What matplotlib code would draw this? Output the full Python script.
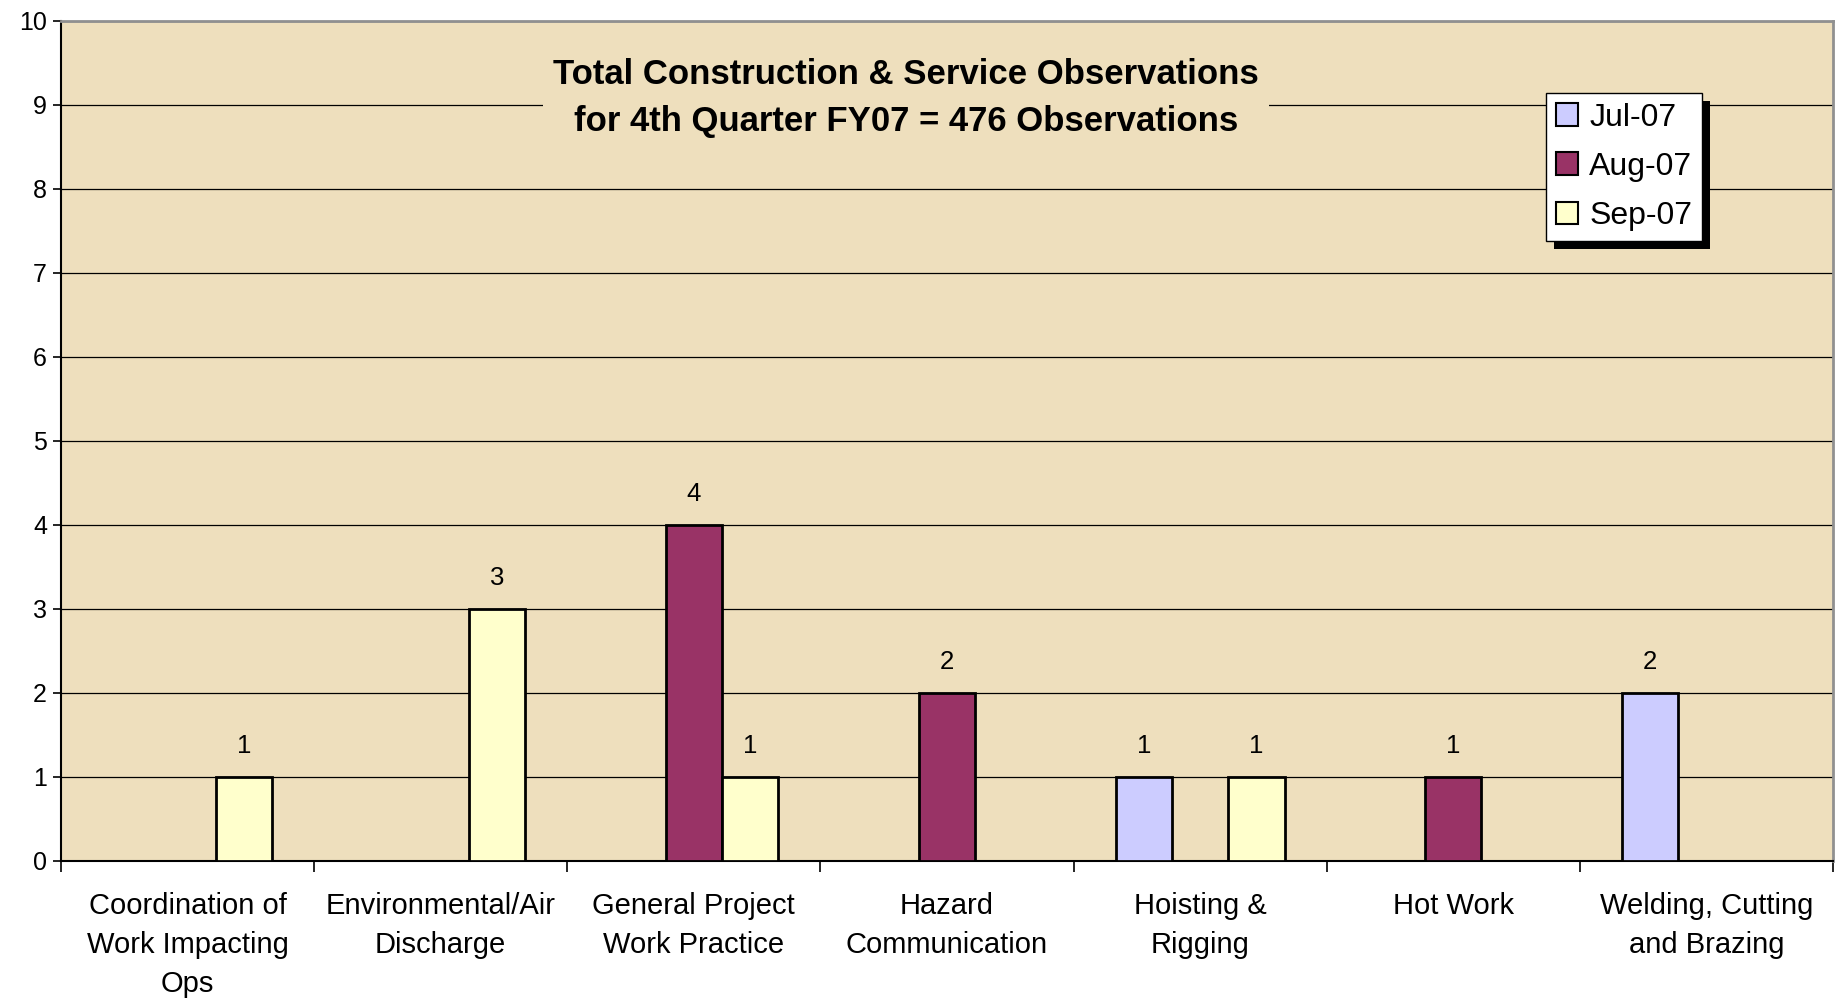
import matplotlib
matplotlib.use("Agg")
import matplotlib.pyplot as plt
import numpy as np
from matplotlib.patches import Rectangle, Patch

categories = ["Coordination of\nWork Impacting\nOps", "Environmental/Air\nDischarge",
              "General Project\nWork Practice", "Hazard\nCommunication",
              "Hoisting &\nRigging", "Hot Work", "Welding, Cutting\nand Brazing"]
series_names = ["Jul-07", "Aug-07", "Sep-07"]
jul = [0, 0, 0, 0, 1, 0, 2]
aug = [0, 0, 4, 2, 0, 1, 0]
sep = [1, 3, 1, 0, 1, 0, 0]
colors = ["#CCCCFF", "#993366", "#FFFFCC"]
title_lines = ["Total Construction & Service Observations",
               "for 4th Quarter FY07 = 476 Observations"]

plt.rcParams['font.family'] = ['Liberation Sans', 'DejaVu Sans']
bg = "#EEDFBD"

fig = plt.figure(figsize=(18.42, 9.99), dpi=100)
fig.patch.set_facecolor("white")
ax = fig.add_axes([61/1842, 1-861/999, (1833-61)/1842, (861-21)/999])
ax.set_facecolor(bg)

n = len(categories)
x = np.arange(n) + 0.5
w = 1/4.5
for i, (vals, c, name) in enumerate(zip([jul, aug, sep], colors, series_names)):
    pos = x + (i-1)*w
    v = np.array(vals, dtype=float)
    bars = ax.bar(pos, v, width=w, color=c, edgecolor="black", linewidth=2.0,
                  label=name, zorder=3)
    for b, val in zip(bars, v):
        if val == 0:
            b.set_visible(False)
        else:
            ax.annotate(f"{int(val)}", (b.get_x()+b.get_width()/2, val),
                        xytext=(0, 14), textcoords="offset points",
                        ha="center", va="bottom", fontsize=18.5, zorder=5)

ax.set_xlim(0, n)
ax.set_ylim(0, 10)
ax.set_yticks(range(0, 11))
ax.yaxis.grid(True, color="black", linewidth=0.9, zorder=1)
ax.set_axisbelow(True)
ax.tick_params(axis="y", labelsize=18, length=6, width=1.2, direction="out", pad=4)
ax.set_xticks(np.arange(0, n+1))
ax.set_xticklabels([])
ax.set_xticks(x, minor=True)
ax.set_xticklabels(categories, minor=True, fontsize=21, linespacing=1.5)
ax.tick_params(axis="x", which="major", length=8, width=1.2, direction="out")
ax.tick_params(axis="x", which="minor", length=0, pad=22)
for lab in ax.get_xticklabels(minor=True):
    lab.set_verticalalignment("top")
ax.spines["left"].set_color("black")
ax.spines["left"].set_linewidth(1.5)
ax.spines["bottom"].set_color("black")
ax.spines["bottom"].set_linewidth(1.5)
ax.spines["top"].set_color("#909090")
ax.spines["top"].set_linewidth(2)
ax.spines["right"].set_color("#909090")
ax.spines["right"].set_linewidth(2)

# Title with background box covering the gridline
fig.text(906/1842, 1-98/999, "\n".join(title_lines), ha="center", va="center",
         fontsize=25, fontweight="bold",
         family=['Liberation Sans Narrow', 'Liberation Sans', 'DejaVu Sans'],
         linespacing=1.55,
         bbox=dict(boxstyle="square,pad=0.3", facecolor=bg, edgecolor="none"),
         zorder=10)

# Legend with shadow
proxies = [Patch(facecolor=c, edgecolor="black", linewidth=1.5) for c in colors]
leg = ax.legend(handles=proxies, labels=series_names, loc="upper left",
                bbox_to_anchor=((1546-61)/(1833-61), 1-(93-21)/(861-21)),
                fontsize=23, frameon=True, fancybox=False, shadow=False,
                handlelength=0.7, handleheight=0.7, handletextpad=0.35,
                labelspacing=0.6, borderpad=0.3, borderaxespad=0)
frame = leg.get_frame()
frame.set_edgecolor("black")
frame.set_linewidth(1.0)
frame.set_facecolor("white")
frame.set_alpha(1)
leg.set_zorder(10)

fig.canvas.draw()
bb = leg.get_window_extent()
inv = fig.transFigure.inverted()
(x0, y0), (x1, y1) = inv.transform([(bb.x0, bb.y0), (bb.x1, bb.y1)])
off_x, off_y = 8/1842, 8/999
shadow = Rectangle((x0+off_x, y0-off_y), x1-x0, y1-y0,
                   transform=fig.transFigure, facecolor="black",
                   edgecolor="none", zorder=9, clip_on=False)
ax.add_artist(shadow)

fig.savefig("out.png", dpi=100, facecolor="white")
